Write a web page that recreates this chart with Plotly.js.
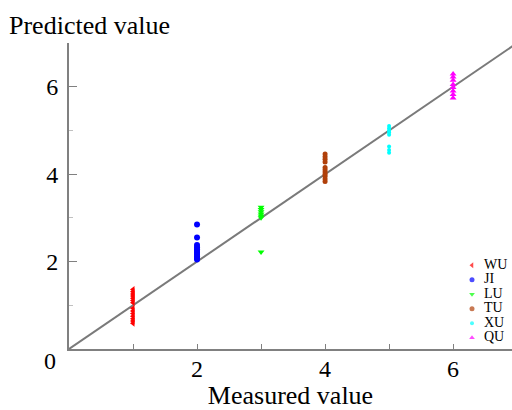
<!DOCTYPE html>
<html>
<head>
<meta charset="utf-8">
<script src="https://cdn.plot.ly/plotly-3.0.1.min.js"></script>
<style>html,body{margin:0;padding:0;background:#fff}#chart{width:512px;height:410px}</style>
</head>
<body>
<div id="chart"></div>
<script>
// Data
const seriesNames = ["WU", "JI", "LU", "TU", "XU", "QU"];
const measuredWU = [1,1,1,1,1,1,1,1,1,1,1,1,1,1];
const predictedWU = [1.36,1.31,1.26,1.21,1.16,1.11,1.06,0.93,0.87,0.81,0.75,0.69,0.64,0.59];
const measuredJI = [2,2,2,2,2,2,2,2,2,2,2];
const predictedJI = [2.85,2.55,2.38,2.33,2.28,2.24,2.2,2.16,2.12,2.08,2.05];
const measuredLU = [3,3,3,3,3,3,3];
const predictedLU = [3.24,3.19,3.14,3.09,3.04,3.0,2.22];
const measuredTU = [4,4,4,4,4,4,4,4,4,4,4];
const predictedTU = [4.46,4.4,4.34,4.28,4.15,4.1,4.05,4.0,3.95,3.89,3.83];
const measuredXU = [5,5,5,5,5,5,5,5];
const predictedXU = [5.1,5.05,5.0,4.95,4.9,4.63,4.55,4.49];
const measuredQU = [6,6,6,6,6,6,6,6];
const predictedQU = [6.29,6.22,6.15,6.05,5.98,5.9,5.82,5.74];
const lineX = [0, 7];
const lineY = [0, 7];
const xTickVals = [2, 4, 6];
const yTickVals = [2, 4, 6];

const styles = {
  WU: {color: "#ff0000", symbol: "triangle-left", size: 6},
  JI: {color: "#0000ff", symbol: "circle", size: 6},
  LU: {color: "#00ff00", symbol: "triangle-down", size: 6},
  TU: {color: "#b0400a", symbol: "circle", size: 5},
  XU: {color: "#00ffff", symbol: "circle", size: 4},
  QU: {color: "#ff00ff", symbol: "triangle-up", size: 6}
};
const xs = {WU: measuredWU, JI: measuredJI, LU: measuredLU, TU: measuredTU, XU: measuredXU, QU: measuredQU};
const ys = {WU: predictedWU, JI: predictedJI, LU: predictedLU, TU: predictedTU, XU: predictedXU, QU: predictedQU};

const traces = [{
  x: lineX, y: lineY, mode: "lines", type: "scatter", showlegend: false,
  line: {color: "#7a7a7a", width: 2}, hoverinfo: "skip"
}];
seriesNames.forEach(n => {
  traces.push({
    x: xs[n], y: ys[n], mode: "markers", type: "scatter", name: n, showlegend: false,
    marker: {color: styles[n].color, symbol: styles[n].symbol, size: styles[n].size, line: {width: 0}}
  });
});
// Compact legend drawn on an overlay axis (rows indexed by series order)
const legendRows = seriesNames.map((n, i) => i);
traces.push({
  x: seriesNames.map(() => 5), y: legendRows, xaxis: "x2", yaxis: "y2",
  mode: "markers", type: "scatter", showlegend: false, hoverinfo: "skip",
  marker: {
    color: seriesNames.map(n => styles[n].color),
    symbol: seriesNames.map(n => styles[n].symbol),
    size: seriesNames.map(n => Math.min(styles[n].size, 5)),
    line: {width: 0}
  }
});
traces.push({
  x: seriesNames.map(() => 17), y: legendRows, xaxis: "x2", yaxis: "y2",
  mode: "text", type: "scatter", showlegend: false, hoverinfo: "skip",
  text: seriesNames, textposition: "middle right",
  textfont: {family: "Liberation Serif, Times New Roman, serif", size: 14, color: "#000"}
});

const font = {family: "Liberation Serif, Times New Roman, serif", color: "#000"};
const layout = {
  width: 512, height: 410,
  margin: {l: 69, r: 0, t: 43, b: 61},
  paper_bgcolor: "#fff", plot_bgcolor: "#fff",
  font: font,
  showlegend: false,
  xaxis: {
    range: [0, 6.92], showgrid: false, zeroline: false,
    showline: true, linecolor: "#808080", linewidth: 2,
    ticks: "inside", ticklen: 5, tickcolor: "#808080", tickwidth: 1,
    tickmode: "array", tickvals: xTickVals,
    minor: {dtick: 1, tick0: 0, ticks: "inside", ticklen: 5, tickcolor: "#808080", tickwidth: 1},
    tickfont: {family: font.family, size: 24, color: "#000"},
    ticklabelstandoff: -3,
    title: {text: "Measured value", font: {family: font.family, size: 26, color: "#000"}, standoff: 2}
  },
  yaxis: {
    range: [0, 7], showgrid: false, zeroline: false,
    showline: true, linecolor: "#808080", linewidth: 2,
    ticks: "inside", ticklen: 8, tickcolor: "#808080", tickwidth: 1,
    tickmode: "array", tickvals: yTickVals,
    minor: {dtick: 1, tick0: 0, ticks: "inside", ticklen: 4, tickcolor: "#c0c0c0", tickwidth: 1},
    tickfont: {family: font.family, size: 24, color: "#000"},
    ticklabelstandoff: 4
  },
  xaxis2: {
    domain: [(465 - 69) / 443, 1], anchor: "y2", range: [-2, 45],
    visible: false, fixedrange: true
  },
  yaxis2: {
    domain: [(349 - 345) / 306, (349 - 258) / 306], anchor: "x2", range: [5.5, -0.5],
    visible: false, fixedrange: true
  },
  annotations: [
    {text: "Predicted value", xref: "paper", yref: "paper", x: -0.14, y: 1.058,
     xanchor: "left", yanchor: "middle", showarrow: false,
     font: {family: font.family, size: 26, color: "#000"}},
    {text: "0", xref: "paper", yref: "paper", x: -0.043, y: -0.04,
     xanchor: "center", yanchor: "middle", showarrow: false,
     font: {family: font.family, size: 24, color: "#000"}}
  ]
};

Plotly.newPlot("chart", traces, layout, {displayModeBar: false, staticPlot: true});
</script>
</body>
</html>
